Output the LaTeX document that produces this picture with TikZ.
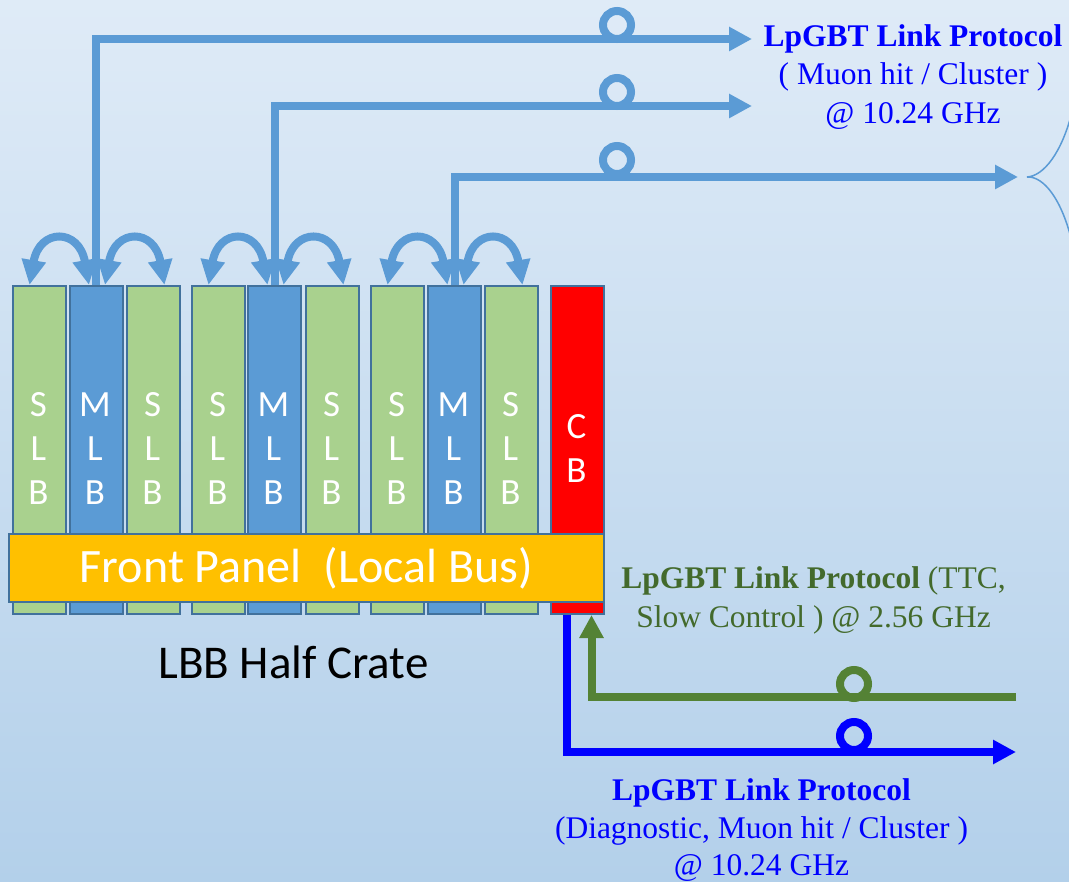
\documentclass[tikz,border=0pt]{standalone}
\usepackage{fontspec}
\setmainfont{Liberation Serif}
\newfontfamily\calfont{Carlito}
\usetikzlibrary{arrows.meta}

\definecolor{bgtop}{RGB}{223,235,247}
\definecolor{bgbot}{RGB}{179,208,234}
\definecolor{slbfill}{HTML}{A9D18E}
\definecolor{mlbfill}{HTML}{5B9BD5}
\definecolor{edge}{HTML}{41719C}
\definecolor{cbfill}{HTML}{FF0000}
\definecolor{fpfill}{HTML}{FFC000}
\definecolor{linkblue}{HTML}{5B9BD5}
\definecolor{ttcgreen}{HTML}{548235}
\definecolor{ttctext}{HTML}{436A2C}
\definecolor{diagblue}{HTML}{0000FF}

\begin{document}
\begin{tikzpicture}[x=1pt,y=-1pt,
  board/.style={draw=edge, line width=2pt, minimum width=53pt, minimum height=328pt, inner sep=0pt, anchor=north west},
  blet/.style={text=white, font=\calfont\fontsize{37}{44}\selectfont, anchor=base, inner sep=0pt},
  panel/.style={draw=edge, line width=2pt, fill=fpfill, minimum width=595pt, minimum height=68pt, inner sep=0pt, anchor=north west,
    text=white, font=\calfont\fontsize{48}{56}\selectfont},
  bigtip/.style={-{Triangle[length=23pt,width=23pt]}},
  link/.style={draw=linkblue, line width=8pt},
  hop/.style={draw=linkblue, line width=8pt, {Triangle[length=25pt,width=23pt]}-{Triangle[length=25pt,width=23pt]}},
  ring/.style={circle, line width=8pt, minimum size=28pt, inner sep=0pt},
  ttlink/.style={draw=ttcgreen, line width=8pt},
  dglink/.style={draw=diagblue, line width=8pt},
  proto/.style={font=\fontsize{31.5}{38}\selectfont, anchor=base, inner sep=0pt}
]
% background
\fill[top color=bgtop, bottom color=bgbot] (0,0) rectangle (1069,882);
\useasboundingbox (0,0) rectangle (1069,882);

% boards of the half crate
\foreach \x/\c/\l/\n in {12/slbfill/S/1, 68.5/mlbfill/M/2, 126/slbfill/S/3,
                         191/slbfill/S/4, 247/mlbfill/M/5, 305/slbfill/S/6,
                         370/slbfill/S/7, 427/mlbfill/M/8, 484/slbfill/S/9}{
  \node[board, fill=\c] (b\n) at (\x,285) {};
  \node[blet] (b\n-1) at (\x+26.5,417) {\l};
  \node[blet] (b\n-2) at (\x+26.5,461) {L};
  \node[blet] (b\n-3) at (\x+26.5,505) {B};
}
\node[board, fill=cbfill] (cb) at (550,285) {};
\node[blet] (cb-1) at (576.5,439) {C};
\node[blet] (cb-2) at (576.5,483) {B};

% front panel
\node[panel] (fp) at (8,533) {Front Panel~~(Local Bus)};
\node[font=\calfont\fontsize{47}{56}\selectfont, anchor=base, inner sep=0pt] (crate) at (293.5,678) {LBB Half Crate};

% neighbour hops between boards
\foreach \s/\m/\e in {1/2/3, 4/5/6, 7/8/9}{
  \draw[hop] ([xshift=-10pt]b\s.north) .. controls +(10,-57) and +(-10,-57) .. ([xshift=-7pt]b\m.north);
  \draw[hop] ([xshift=9pt]b\m.north) .. controls +(10,-57) and +(-10,-57) .. ([xshift=11pt]b\e.north);
}

% uplinks of the MLBs
\coordinate (t1) at (752,39);
\coordinate (t2) at (752,106);
\coordinate (t3) at (1018,177);
\draw[link, bigtip] (b2.north) |- (t1);
\draw[link, bigtip] (b5.north) |- (t2);
\draw[link, bigtip] (b8.north) |- (t3);
\node[ring, draw=linkblue] (r1) at (617,25) {};
\node[ring, draw=linkblue] (r2) at (617,92) {};
\node[ring, draw=linkblue] (r3) at (617,160) {};

% brace after the third uplink
\draw[linkblue, line width=1.5pt] (1072,112) .. controls (1062,152) and (1044,176) .. ([xshift=9pt]t3)
  .. controls (1044,176) and (1062,200) .. (1072,242);

% links of the CB
\coordinate (gs) at (1016,697);
\coordinate (de) at (1016,752);
\draw[ttlink, bigtip] (gs) -| ([xshift=14pt]cb.south);
\draw[dglink, bigtip] ([xshift=-10.5pt]cb.south) |- (de);
\node[ring, draw=ttcgreen] (r4) at (854,684) {};
\node[ring, draw=diagblue] (r5) at (854,736) {};

% protocol labels
\node[proto, text=diagblue] (up1) at (913,47) {\textbf{LpGBT Link Protocol}};
\node[proto, text=diagblue] (up2) at (913,85) {( Muon hit / Cluster )};
\node[proto, text=diagblue] (up3) at (913,124) {@ 10.24 GHz};

\node[proto, text=ttctext] (tt1) at (813.5,588) {\textbf{LpGBT Link Protocol} (TTC,};
\node[proto, text=ttctext] (tt2) at (813.5,627) {Slow Control ) @ 2.56 GHz};

\node[proto, text=diagblue] (dg1) at (761.5,800) {\textbf{LpGBT Link Protocol}};
\node[proto, text=diagblue] (dg2) at (761.5,838) {(Diagnostic, Muon hit / Cluster )};
\node[proto, text=diagblue] (dg3) at (761.5,875) {@ 10.24 GHz};
\end{tikzpicture}
\end{document}
